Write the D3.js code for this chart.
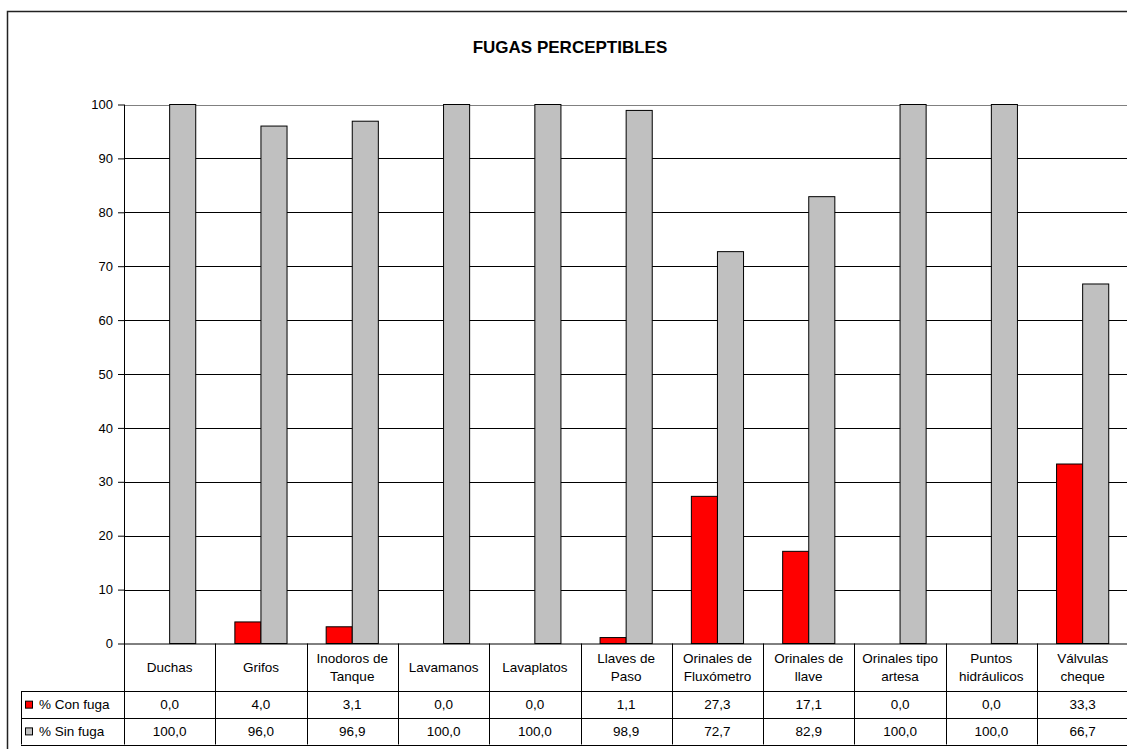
<!DOCTYPE html>
<html>
<head>
<meta charset="utf-8">
<script src="https://cdn.jsdelivr.net/npm/d3@7"></script>
<style>
  html, body { margin: 0; padding: 0; background: #fff; }
  svg { display: block; }
  text { font-family: "Liberation Sans", Arial, sans-serif; fill: #000; }
</style>
</head>
<body>
<svg id="chart" width="1127" height="749"></svg>
<script>
// Categories (line breaks as shown in the data table)
const categoryLines = [
  ["Duchas"],
  ["Grifos"],
  ["Inodoros de", "Tanque"],
  ["Lavamanos"],
  ["Lavaplatos"],
  ["Llaves de", "Paso"],
  ["Orinales de", "Fluxómetro"],
  ["Orinales de", "llave"],
  ["Orinales tipo", "artesa"],
  ["Puntos", "hidráulicos"],
  ["Válvulas", "cheque"]
];
const categories = categoryLines.map(l => l.join(" "));

// Percentages per category
const conFuga = [0.0, 4.0, 3.1, 0.0, 0.0, 1.1, 27.3, 17.1, 0.0, 0.0, 33.3];
const sinFuga = [100.0, 96.0, 96.9, 100.0, 100.0, 98.9, 72.7, 82.9, 100.0, 100.0, 66.7];

const seriesNames = ["% Con fuga", "% Sin fuga"];
const seriesColors = ["#ff0000", "#c0c0c0"];
const yTicks = [0, 10, 20, 30, 40, 50, 60, 70, 80, 90, 100];
const chartTitle = "FUGAS PERCEPTIBLES";

const series = [conFuga, sinFuga];

const svg = d3.select("#chart");

// Layout
const plotLeft = 124, plotTop = 104.5, plotBottom = 643.5;
const catWidth = 91.3;
const plotRight = plotLeft + catWidth * categories.length;
const rowCat = 691, rowA = 718.3, rowB = 744.5;
const legendLeft = 21;

const x = d3.scaleBand().domain(categories).range([plotLeft, plotRight]).padding(0);
const y = d3.scaleLinear().domain([0, 100]).range([plotBottom, plotTop]);
const barW = x.bandwidth() / 3.5;

const fmt = v => d3.format(".1f")(v).replace(".", ",");

// Outer chart frame
svg.append("path")
  .attr("d", `M7.5,${749 + 5} V11.5 H${1127 + 5}`)
  .attr("fill", "none").attr("stroke", "#222").attr("stroke-width", 1.5);

// Title
svg.append("text")
  .attr("x", 570).attr("y", 53)
  .attr("text-anchor", "middle")
  .style("font-size", "17px").style("font-weight", "bold")
  .text(chartTitle);

// Gridlines
svg.append("g").selectAll("line")
  .data(yTicks.filter(t => t > 0 && t < 100))
  .join("line")
  .attr("x1", plotLeft).attr("x2", plotRight)
  .attr("y1", d => Math.round(y(d)) + 0.5).attr("y2", d => Math.round(y(d)) + 0.5)
  .attr("stroke", "#000").attr("stroke-width", 1);

// Plot area top border
svg.append("line")
  .attr("x1", plotLeft).attr("x2", plotRight)
  .attr("y1", Math.round(y(100)) + 0.5).attr("y2", Math.round(y(100)) + 0.5)
  .attr("stroke", "#808080").attr("stroke-width", 1.2);

// Bars
series.forEach((vals, si) => {
  svg.append("g").selectAll("rect")
    .data(vals.map((v, i) => ({ v, c: categories[i] })).filter(d => d.v > 0))
    .join("rect")
    .attr("x", d => x(d.c) + x.bandwidth() / 2 + (si - 1) * barW)
    .attr("width", barW)
    .attr("y", d => y(d.v))
    .attr("height", d => y(0) - y(d.v))
    .attr("fill", seriesColors[si])
    .attr("stroke", "#000").attr("stroke-width", 1);
});

// Y axis
const yAxis = svg.append("g")
  .attr("transform", `translate(${plotLeft},0)`)
  .call(d3.axisLeft(y).tickValues(yTicks).tickSize(6).tickPadding(5).tickFormat(d3.format("d")));
yAxis.select(".domain").remove();
yAxis.selectAll(".tick line").attr("stroke", "#000");
yAxis.selectAll(".tick text")
  .style("font-size", "13px").style("font-family", "'Liberation Sans', Arial, sans-serif")
  .attr("fill", "#000");

// Axis line continuing down through the data table
svg.append("line")
  .attr("x1", plotLeft + 0.5).attr("x2", plotLeft + 0.5)
  .attr("y1", plotTop).attr("y2", rowB)
  .attr("stroke", "#000");

// Category axis / table top line
svg.append("line")
  .attr("x1", plotLeft).attr("x2", plotRight)
  .attr("y1", plotBottom + 0.5).attr("y2", plotBottom + 0.5)
  .attr("stroke", "#000");

// Data table
const table = svg.append("g");
[rowCat, rowA, rowB].forEach(ry => {
  table.append("line")
    .attr("x1", legendLeft).attr("x2", plotRight)
    .attr("y1", Math.round(ry) + 0.5).attr("y2", Math.round(ry) + 0.5)
    .attr("stroke", "#000");
});
table.append("line")
  .attr("x1", legendLeft + 0.5).attr("x2", legendLeft + 0.5)
  .attr("y1", rowCat).attr("y2", rowB)
  .attr("stroke", "#000");
table.selectAll("line.sep")
  .data(categories.slice(1))
  .join("line")
  .attr("class", "sep")
  .attr("x1", d => Math.round(x(d)) + 0.5).attr("x2", d => Math.round(x(d)) + 0.5)
  .attr("y1", plotBottom).attr("y2", rowB)
  .attr("stroke", "#000");

// Category labels
const catCenter = (plotBottom + rowCat) / 2;
const lineGap = 18.5;
categories.forEach((c, i) => {
  const lines = categoryLines[i];
  const t = table.append("text")
    .attr("text-anchor", "middle")
    .style("font-size", "13.5px");
  lines.forEach((ln, j) => {
    t.append("tspan")
      .attr("x", x(c) + x.bandwidth() / 2)
      .attr("y", catCenter + (j - (lines.length - 1) / 2) * lineGap)
      .attr("dy", "0.35em")
      .text(ln);
  });
});

// Value rows
const rowCenters = [(rowCat + rowA) / 2, (rowA + rowB) / 2];
series.forEach((vals, si) => {
  table.append("g").selectAll("text")
    .data(vals)
    .join("text")
    .attr("x", (d, i) => x(categories[i]) + x.bandwidth() / 2)
    .attr("y", rowCenters[si])
    .attr("dy", "0.35em")
    .attr("text-anchor", "middle")
    .style("font-size", "13.5px")
    .text(d => fmt(d));

  // Legend key and name
  table.append("rect")
    .attr("x", 25.5).attr("y", rowCenters[si] - 3.5)
    .attr("width", 7).attr("height", 7)
    .attr("fill", seriesColors[si]).attr("stroke", "#000").attr("stroke-width", 1);
  table.append("text")
    .attr("x", 39).attr("y", rowCenters[si])
    .attr("dy", "0.35em")
    .style("font-size", "13.5px")
    .text(seriesNames[si]);
});
</script>
</body>
</html>
